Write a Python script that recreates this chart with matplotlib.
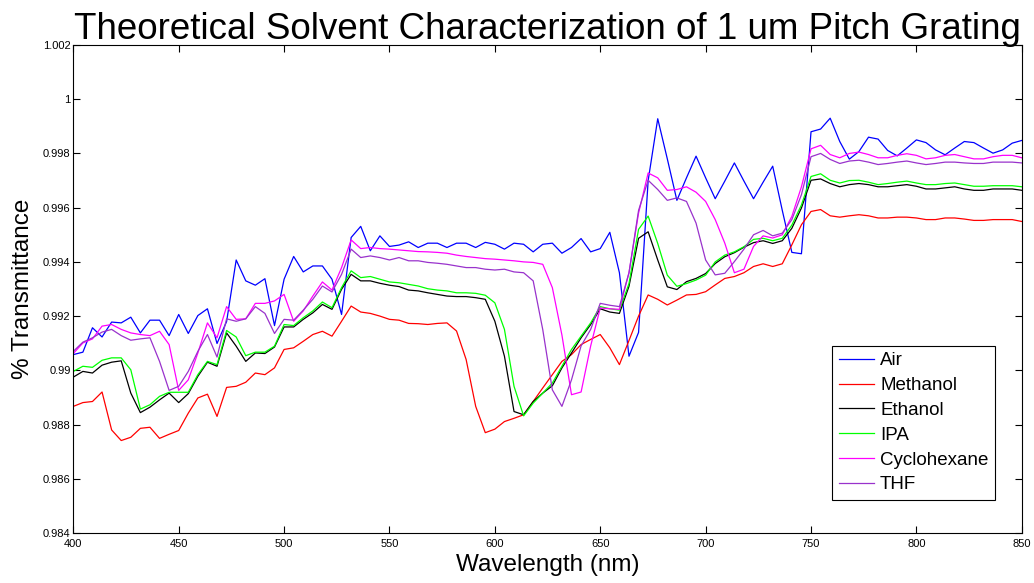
import numpy as np
import matplotlib
matplotlib.use("Agg")
import matplotlib.pyplot as plt
from matplotlib.ticker import FuncFormatter

plt.rcParams['font.family'] = ['Liberation Sans', 'DejaVu Sans']

# 波长 (nm), 100 个采样点
wavelength = np.linspace(400, 850, 100)

air = [
    0.99058, 0.99067, 0.99157, 0.99123, 0.99178, 0.99175, 0.99196, 0.99138, 0.99185, 0.99185,
    0.99128, 0.99206, 0.99136, 0.99202, 0.99227, 0.99099, 0.99180, 0.99407, 0.99330, 0.99314,
    0.99338, 0.99165, 0.99336, 0.99420, 0.99363, 0.99385, 0.99385, 0.99336, 0.99206, 0.99490,
    0.99531, 0.99441, 0.99496, 0.99457, 0.99462, 0.99474, 0.99453, 0.99469, 0.99469, 0.99453,
    0.99469, 0.99469, 0.99453, 0.99472, 0.99465, 0.99447, 0.99469, 0.99465, 0.99437, 0.99465,
    0.99469, 0.99432, 0.99453, 0.99486, 0.99437, 0.99449, 0.99509, 0.99360, 0.99052, 0.99140,
    0.99700, 0.99928, 0.99780, 0.99627, 0.99710, 0.99790, 0.99710, 0.99633, 0.99698, 0.99765,
    0.99698, 0.99633, 0.99694, 0.99753, 0.99590, 0.99435, 0.99430, 0.99880, 0.99890, 0.99930,
    0.99844, 0.99779, 0.99807, 0.99860, 0.99853, 0.99811, 0.99791, 0.99820, 0.99850, 0.99840,
    0.99813, 0.99795, 0.99820, 0.99844, 0.99840, 0.99820, 0.99801, 0.99813, 0.99838, 0.99848,
]

methanol = [
    0.98867, 0.98881, 0.98885, 0.98920, 0.98780, 0.98741, 0.98753, 0.98786, 0.98790, 0.98749,
    0.98764, 0.98778, 0.98842, 0.98898, 0.98912, 0.98830, 0.98937, 0.98941, 0.98956, 0.98990,
    0.98984, 0.99009, 0.99077, 0.99083, 0.99107, 0.99132, 0.99144, 0.99126, 0.99181, 0.99237,
    0.99215, 0.99210, 0.99200, 0.99188, 0.99185, 0.99173, 0.99172, 0.99169, 0.99173, 0.99175,
    0.99145, 0.99040, 0.98867, 0.98770, 0.98783, 0.98811, 0.98823, 0.98836, 0.98885, 0.98935,
    0.98984, 0.99033, 0.99058, 0.99095, 0.99114, 0.99132, 0.99083, 0.99021, 0.99110, 0.99200,
    0.99278, 0.99262, 0.99241, 0.99259, 0.99278, 0.99280, 0.99290, 0.99315, 0.99339, 0.99346,
    0.99360, 0.99383, 0.99393, 0.99383, 0.99393, 0.99463, 0.99537, 0.99586, 0.99593, 0.99570,
    0.99565, 0.99570, 0.99574, 0.99570, 0.99562, 0.99562, 0.99565, 0.99565, 0.99562, 0.99556,
    0.99556, 0.99562, 0.99562, 0.99558, 0.99553, 0.99553, 0.99556, 0.99556, 0.99556, 0.99549,
]

ethanol = [
    0.98975, 0.98996, 0.98990, 0.99019, 0.99030, 0.99035, 0.98916, 0.98844, 0.98864, 0.98891,
    0.98916, 0.98881, 0.98914, 0.98978, 0.99030, 0.99015, 0.99138, 0.99089, 0.99033, 0.99064,
    0.99062, 0.99086, 0.99160, 0.99160, 0.99188, 0.99212, 0.99243, 0.99225, 0.99299, 0.99354,
    0.99330, 0.99330, 0.99321, 0.99314, 0.99309, 0.99296, 0.99293, 0.99286, 0.99280, 0.99274,
    0.99272, 0.99272, 0.99268, 0.99262, 0.99181, 0.99052, 0.98848, 0.98836, 0.98885, 0.98916,
    0.98943, 0.99009, 0.99064, 0.99120, 0.99169, 0.99227, 0.99215, 0.99210, 0.99310, 0.99487,
    0.99511, 0.99407, 0.99308, 0.99298, 0.99327, 0.99339, 0.99357, 0.99394, 0.99419, 0.99434,
    0.99454, 0.99471, 0.99478, 0.99468, 0.99478, 0.99524, 0.99599, 0.99701, 0.99706, 0.99689,
    0.99677, 0.99685, 0.99689, 0.99685, 0.99677, 0.99677, 0.99681, 0.99685, 0.99679, 0.99669,
    0.99669, 0.99673, 0.99677, 0.99669, 0.99664, 0.99664, 0.99669, 0.99669, 0.99669, 0.99664,
]

ipa = [
    0.98996, 0.99015, 0.99011, 0.99037, 0.99046, 0.99046, 0.99002, 0.98857, 0.98873, 0.98904,
    0.98919, 0.98919, 0.98919, 0.98984, 0.99033, 0.99021, 0.99147, 0.99123, 0.99054, 0.99067,
    0.99067, 0.99089, 0.99169, 0.99165, 0.99194, 0.99219, 0.99252, 0.99231, 0.99305, 0.99367,
    0.99342, 0.99346, 0.99336, 0.99326, 0.99323, 0.99317, 0.99311, 0.99301, 0.99296, 0.99293,
    0.99286, 0.99286, 0.99284, 0.99277, 0.99249, 0.99151, 0.98941, 0.98832, 0.98879, 0.98916,
    0.98953, 0.99015, 0.99077, 0.99126, 0.99175, 0.99235, 0.99227, 0.99222, 0.99320, 0.99520,
    0.99569, 0.99468, 0.99351, 0.99310, 0.99320, 0.99333, 0.99351, 0.99400, 0.99425, 0.99437,
    0.99456, 0.99483, 0.99487, 0.99478, 0.99487, 0.99536, 0.99610, 0.99715, 0.99725, 0.99701,
    0.99691, 0.99700, 0.99701, 0.99694, 0.99685, 0.99689, 0.99694, 0.99698, 0.99691, 0.99685,
    0.99685, 0.99689, 0.99691, 0.99685, 0.99679, 0.99679, 0.99681, 0.99681, 0.99681, 0.99677,
]

cyclohexane = [
    0.99062, 0.99101, 0.99116, 0.99163, 0.99169, 0.99151, 0.99138, 0.99132, 0.99128, 0.99144,
    0.99095, 0.98926, 0.98965, 0.99064, 0.99175, 0.99120, 0.99235, 0.99188, 0.99190, 0.99247,
    0.99247, 0.99256, 0.99280, 0.99181, 0.99219, 0.99274, 0.99326, 0.99296, 0.99379, 0.99481,
    0.99449, 0.99453, 0.99449, 0.99447, 0.99444, 0.99441, 0.99438, 0.99437, 0.99435, 0.99432,
    0.99425, 0.99420, 0.99416, 0.99412, 0.99410, 0.99407, 0.99404, 0.99400, 0.99398, 0.99391,
    0.99305, 0.99130, 0.98910, 0.98920, 0.99090, 0.99230, 0.99227, 0.99225, 0.99360, 0.99580,
    0.99728, 0.99710, 0.99664, 0.99667, 0.99677, 0.99657, 0.99623, 0.99556, 0.99469, 0.99360,
    0.99373, 0.99457, 0.99496, 0.99488, 0.99500, 0.99568, 0.99677, 0.99817, 0.99830, 0.99796,
    0.99784, 0.99800, 0.99805, 0.99796, 0.99784, 0.99784, 0.99793, 0.99799, 0.99793, 0.99780,
    0.99784, 0.99793, 0.99796, 0.99788, 0.99780, 0.99780, 0.99788, 0.99793, 0.99793, 0.99784,
]

thf = [
    0.99070, 0.99104, 0.99120, 0.99141, 0.99151, 0.99128, 0.99111, 0.99116, 0.99120, 0.99033,
    0.98926, 0.98941, 0.98996, 0.99070, 0.99132, 0.99049, 0.99190, 0.99181, 0.99190, 0.99235,
    0.99210, 0.99136, 0.99188, 0.99185, 0.99222, 0.99262, 0.99311, 0.99289, 0.99354, 0.99447,
    0.99416, 0.99422, 0.99416, 0.99407, 0.99416, 0.99404, 0.99404, 0.99398, 0.99395, 0.99391,
    0.99385, 0.99379, 0.99379, 0.99373, 0.99370, 0.99373, 0.99363, 0.99360, 0.99330, 0.99150,
    0.98928, 0.98867, 0.98965, 0.99090, 0.99151, 0.99247, 0.99240, 0.99235, 0.99360, 0.99590,
    0.99701, 0.99667, 0.99627, 0.99636, 0.99623, 0.99543, 0.99407, 0.99352, 0.99358, 0.99401,
    0.99447, 0.99500, 0.99516, 0.99496, 0.99506, 0.99556, 0.99648, 0.99788, 0.99800, 0.99778,
    0.99763, 0.99772, 0.99775, 0.99768, 0.99759, 0.99763, 0.99768, 0.99772, 0.99765, 0.99759,
    0.99763, 0.99768, 0.99768, 0.99765, 0.99763, 0.99763, 0.99768, 0.99768, 0.99768, 0.99765,
]

labels = ["Air", "Methanol", "Ethanol", "IPA", "Cyclohexane", "THF"]
colors = ["#0000FF", "#FF0000", "#000000", "#00FF00", "#FF00FF", "#9932CC"]
series = [air, methanol, ethanol, ipa, cyclohexane, thf]

fig = plt.figure(figsize=(10.34, 5.83), dpi=100)
ax = fig.add_axes([0.0709, 0.0858, 0.9173, 0.837])

for y, c, lab in zip(series, colors, labels):
    ax.plot(wavelength, y, color=c, lw=0.9, label=lab)

ax.set_xlim(400, 850)
ax.set_ylim(0.984, 1.002)
ax.set_xticks(np.arange(400, 851, 50))
ax.set_yticks(np.arange(0.984, 1.0021, 0.002))
ax.yaxis.set_major_formatter(FuncFormatter(lambda v, p: "%g" % round(v, 3)))
ax.tick_params(direction="in", length=5, width=0.8, labelsize=8,
               top=True, right=True, pad=2)
ax.tick_params(axis="x", pad=4)
for s in ax.spines.values():
    s.set_linewidth(0.8)

ax.set_title("Theoretical Solvent Characterization of 1 um Pitch Grating",
             fontsize=26.5, pad=4)
ax.set_xlabel("Wavelength (nm)", fontsize=17.5, labelpad=4)
ax.set_ylabel("% Transmittance", fontsize=17.5, labelpad=6)

leg = ax.legend(loc="lower right", bbox_to_anchor=(0.9718, 0.0676),
                borderaxespad=0, fontsize=13.5, fancybox=False,
                framealpha=1, edgecolor="black", handlelength=1.9,
                handletextpad=0.3, labelspacing=0.41, borderpad=0.35)
leg.get_frame().set_linewidth(0.8)

plt.savefig("out.png", dpi=100)
plt.close()
